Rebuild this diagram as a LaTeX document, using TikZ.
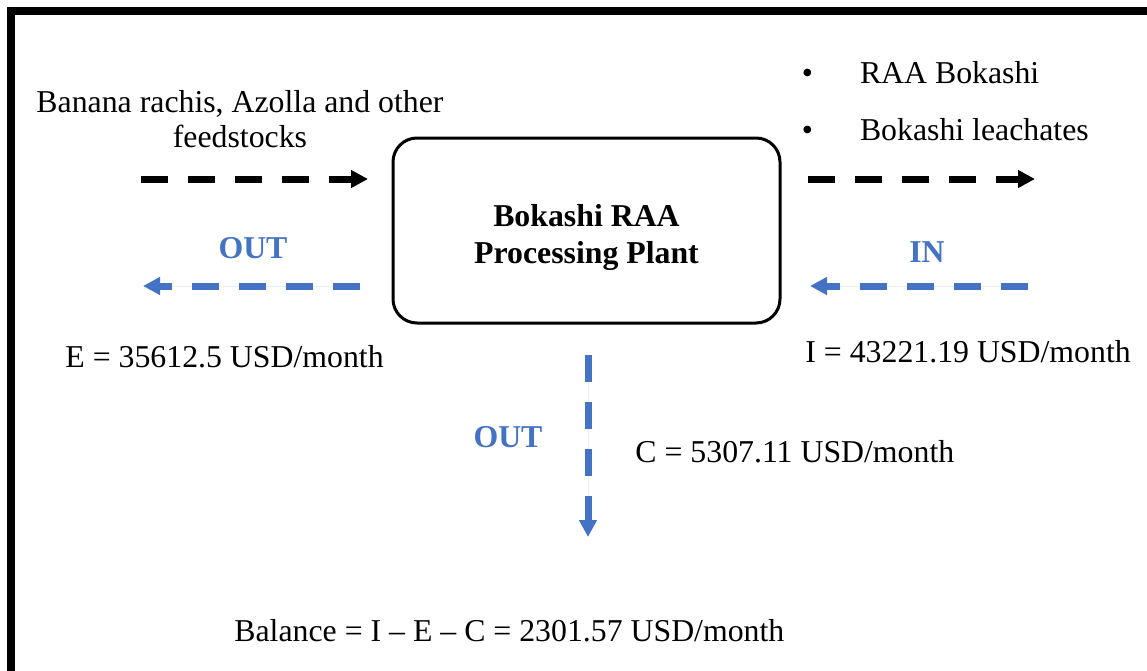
\documentclass[tikz,border=0pt]{standalone}
\usepackage{fontspec}
\setmainfont{Liberation Serif}
\usetikzlibrary{positioning,arrows.meta}
\definecolor{fluxo}{HTML}{4472C4}

\begin{document}
\begin{tikzpicture}[x=0.5pt, y=-0.5pt,
    every node/.style={inner sep=0pt, font=\fontsize{15.9}{17.5}\selectfont},
    seta/.style={line width=3.5pt, dash pattern=on 13.5pt off 10pt, -{Triangle[length=8.5pt, width=8.5pt]}},
    azul/.style={seta, draw=fluxo, fill=fluxo},
    rotulo/.style={font=\fontsize{15.9}{17.5}\selectfont\bfseries, text=fluxo}]
      \useasboundingbox (0,0) rectangle (1147,670);
      \draw[line width=4pt] (1170,11) -- (11,11) -- (11,700);

      \node[draw, line width=1.5pt, rounded corners=12pt, minimum width=193.5pt, minimum height=92.5pt,
            label={[align=center, yshift=-3.5pt, font=\fontsize{15.9}{18.5}\selectfont\bfseries]center:Bokashi RAA\\Processing Plant}] (plant) at (586.5,230.5) {};

      % entradas
      \node[align=center, anchor=base] (feed) at (240,147) {Banana rachis, Azolla and other\\feedstocks};
      \node[anchor=base west] (products) at (801.5,83) {\begin{tabular}[t]{@{}l@{\hspace{23.5pt}}l@{}}\textbullet & RAA Bokashi\\[11pt] \textbullet & Bokashi leachates\end{tabular}};

      % setas
      \coordinate (feedA) at (141,179);
      \coordinate (feedB) at (368,179);
      \coordinate (prodA) at (808,179);
      \coordinate (prodB) at (1035,179);
      \coordinate (expA) at (360,286);
      \coordinate (expB) at (143,286);
      \coordinate (incA) at (1028,286);
      \coordinate (incB) at (810,286);
      \coordinate (costA) at (588,355);
      \coordinate (costB) at (588,537);
      \draw[seta] (feedA) -- (feedB);
      \draw[seta] (prodA) -- (prodB);
      \draw[azul] (expA) -- (expB);
      \draw[azul] (incA) -- (incB);
      \draw[azul] (costA) -- (costB);

      % rotulos
      \node[rotulo, anchor=base] (outE) at (253,258) {OUT};
      \node[rotulo, anchor=base] (inI) at (927,262) {IN};
      \node[rotulo, anchor=base] (outC) at (508,447) {OUT};

      % valores
      \node[anchor=base west] (valE) at (65,367) {E = 35612.5 USD/month};
      \node[anchor=base west] (valI) at (805,362) {I = 43221.19 USD/month};
      \node[anchor=base west] (valC) at (635,462) {C = 5307.11 USD/month};
      \node[anchor=base west] (balance) at (234,641) {Balance = I -- E -- C = 2301.57 USD/month};
    \end{tikzpicture}
\end{document}
